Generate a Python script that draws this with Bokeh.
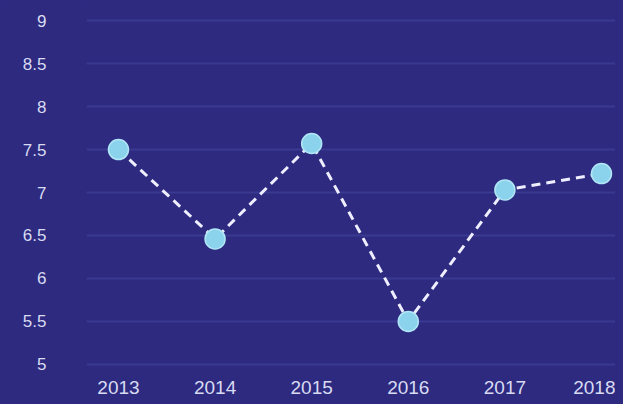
from bokeh.plotting import figure
from bokeh.models import ColumnDataSource, FixedTicker, Range1d, GlobalInlineStyleSheet
from bokeh.embed import file_html
from bokeh.resources import INLINE

years = [2013, 2014, 2015, 2016, 2017, 2018]
values = [7.5, 6.46, 7.57, 5.5, 7.03, 7.22]
x_tick_labels = ["2013", "2014", "2015", "2016", "2017", "2018"]
y_ticks = [5, 5.5, 6, 6.5, 7, 7.5, 8, 8.5, 9]
y_tick_labels = ["5", "5.5", "6", "6.5", "7", "7.5", "8", "8.5", "9"]

BG = "#2d2a80"
TXT = "#d8dbf2"

src = ColumnDataSource(dict(x=years, y=values))

p = figure(width=615, height=396, output_backend="svg", toolbar_location=None,
           x_range=Range1d(2012.669, 2018.145), y_range=Range1d(4.836, 9.234),
           min_border_left=86, min_border_right=0, min_border_top=0, min_border_bottom=0)
p.stylesheets = [GlobalInlineStyleSheet(css=f"body {{ background: {BG}; }}")]

p.background_fill_color = BG
p.border_fill_color = BG
p.outline_line_color = None

p.xgrid.grid_line_color = None
p.ygrid.grid_line_color = "#3a3b90"
p.ygrid.grid_line_width = 2

p.xaxis.ticker = FixedTicker(ticks=years)
p.xaxis.major_label_overrides = {y: s for y, s in zip(years, x_tick_labels)}
p.yaxis.ticker = FixedTicker(ticks=y_ticks)
p.yaxis.major_label_overrides = {t: s for t, s in zip(y_ticks, y_tick_labels)}

for ax in (p.xaxis[0], p.yaxis[0]):
    ax.axis_line_color = None
    ax.major_tick_line_color = None
    ax.minor_tick_line_color = None
    ax.major_tick_out = 0
    ax.major_tick_in = 0
    ax.major_label_text_color = TXT
    ax.major_label_text_font = "Liberation Sans"

p.xaxis.major_label_text_font_size = "19px"
p.xaxis.major_label_standoff = 2
p.yaxis.major_label_text_font_size = "17px"
p.yaxis.major_label_standoff = 40

p.line("x", "y", source=src, line_color="#eeeeff", line_width=3, line_dash="9 6")
p.scatter("x", "y", source=src, size=20, fill_color="#8bd2ec", line_color="#b0e6f6", line_width=1.5)

open("out.html", "w").write(file_html(p, INLINE))
